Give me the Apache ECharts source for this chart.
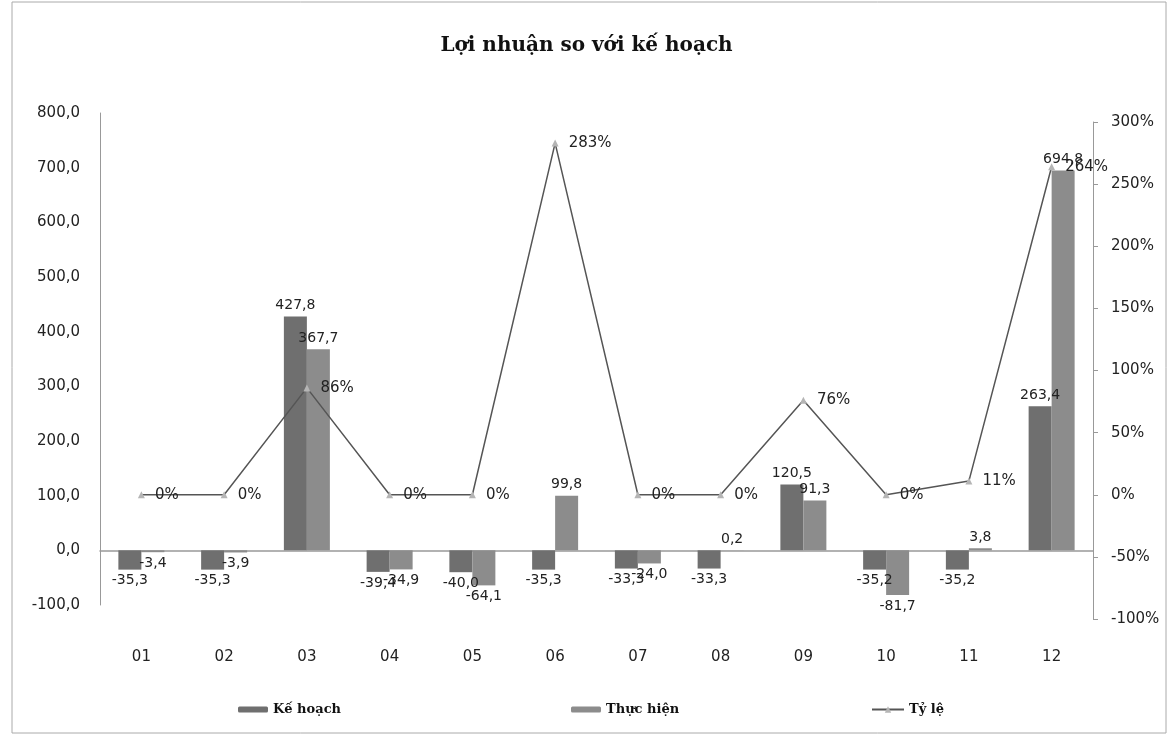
<!DOCTYPE html>
<html>
<head>
<meta charset="utf-8">
<script src="https://cdn.jsdelivr.net/npm/echarts@6/dist/echarts.min.js"></script>
<style>
  html, body { margin: 0; padding: 0; background: #fff; }
  #chart { width: 1173px; height: 740px; }
</style>
</head>
<body>
<div id="chart"></div>
<script>
var months = ["01", "02", "03", "04", "05", "06", "07", "08", "09", "10", "11", "12"];
var keHoach = [-35.3, -35.3, 427.8, -39.4, -40.0, -35.3, -33.3, -33.3, 120.5, -35.2, -35.2, 263.4];
var thucHien = [-3.4, -3.9, 367.7, -34.9, -64.1, 99.8, -24.0, 0.2, 91.3, -81.7, 3.8, 694.8];
var tyLe = [0, 0, 86, 0, 0, 283, 0, 0, 76, 0, 11, 264];

var leftTicks = { min: -100, max: 800, interval: 100 };
var rightTicks = { min: -100, max: 300, interval: 50 };

var textFont = "DejaVu Sans";
var textColor = "#222";

function fmt(v) {
  return v.toFixed(1).replace(".", ",");
}

// nhãn nằm trên cột dương, dưới cột âm
function barData(arr) {
  return arr.map(function (v) {
    return {
      value: v,
      label: { position: v >= 0 ? "top" : "bottom" }
    };
  });
}

var chart = echarts.init(document.getElementById("chart"));

var legendText = { fontFamily: "DejaVu Serif", fontWeight: "bold", fontSize: 13, color: "#111" };

var option = {
  backgroundColor: "#fff",
  animation: false,
  title: {
    text: "Lợi nhuận so với kế hoạch",
    left: "center",
    top: 31,
    textStyle: {
      fontFamily: "DejaVu Serif",
      fontWeight: "bold",
      fontSize: 20,
      color: "#111"
    }
  },
  graphic: [
    {
      type: "rect",
      shape: { x: 12, y: 2, width: 1154, height: 731 },
      style: { fill: "none", stroke: "#aaa", lineWidth: 1 },
      silent: true
    }
  ],
  legend: [
    {
      data: ["Kế hoạch"],
      left: 233,
      top: 698,
      itemWidth: 30,
      itemHeight: 6,
      textStyle: legendText
    },
    {
      data: ["Thực hiện"],
      left: 566,
      top: 698,
      itemWidth: 30,
      itemHeight: 6,
      textStyle: legendText
    },
    {
      data: ["Tỷ lệ"],
      left: 866,
      top: 698,
      itemWidth: 32,
      itemHeight: 8,
      textStyle: legendText
    }
  ],
  grid: [
    { left: 100, right: 80, top: 113, bottom: 135 },
    { left: 100, right: 80, top: 122, bottom: 121 }
  ],
  xAxis: [
    {
      type: "category",
      gridIndex: 0,
      data: months,
      axisLine: { show: true, onZero: true, lineStyle: { color: "#999", width: 1.5 } },
      axisTick: { show: false },
      axisLabel: {
        margin: 45,
        fontFamily: textFont,
        fontSize: 15,
        color: textColor
      },
      splitLine: { show: false }
    },
    {
      type: "category",
      gridIndex: 1,
      data: months,
      show: false
    }
  ],
  yAxis: [
    {
      type: "value",
      gridIndex: 0,
      min: leftTicks.min,
      max: leftTicks.max,
      interval: leftTicks.interval,
      axisLine: { show: true, lineStyle: { color: "#999" } },
      axisTick: { show: false },
      splitLine: { show: false },
      axisLabel: {
        margin: 20,
        fontFamily: textFont,
        fontSize: 15,
        color: textColor,
        formatter: fmt
      }
    },
    {
      type: "value",
      gridIndex: 1,
      position: "right",
      min: rightTicks.min,
      max: rightTicks.max,
      interval: rightTicks.interval,
      axisLine: { show: true, lineStyle: { color: "#999" } },
      axisTick: { show: true, inside: false, length: 5, lineStyle: { color: "#999" } },
      splitLine: { show: false },
      axisLabel: {
        margin: 18,
        fontFamily: textFont,
        fontSize: 15,
        color: textColor,
        formatter: "{value}%"
      }
    }
  ],
  series: [
    {
      name: "Kế hoạch",
      type: "bar",
      xAxisIndex: 0,
      yAxisIndex: 0,
      barWidth: 23,
      barGap: "0%",
      itemStyle: { color: "#6f6f6f" },
      label: {
        show: true,
        distance: 4,
        fontFamily: textFont,
        fontSize: 14,
        color: textColor,
        formatter: function (p) { return fmt(p.value); }
      },
      data: barData(keHoach)
    },
    {
      name: "Thực hiện",
      type: "bar",
      xAxisIndex: 0,
      yAxisIndex: 0,
      barWidth: 23,
      barGap: "0%",
      itemStyle: { color: "#8c8c8c" },
      label: {
        show: true,
        distance: 4,
        fontFamily: textFont,
        fontSize: 14,
        color: textColor,
        formatter: function (p) { return fmt(p.value); }
      },
      data: barData(thucHien)
    },
    {
      name: "Tỷ lệ",
      type: "line",
      xAxisIndex: 1,
      yAxisIndex: 1,
      symbol: "triangle",
      symbolSize: 7,
      itemStyle: { color: "#b5b5b5" },
      lineStyle: { color: "#555", width: 1.5 },
      label: {
        show: true,
        position: "right",
        distance: 10,
        fontFamily: textFont,
        fontSize: 15,
        color: textColor,
        formatter: "{c}%"
      },
      data: tyLe
    }
  ]
};

chart.setOption(option);
</script>
</body>
</html>
